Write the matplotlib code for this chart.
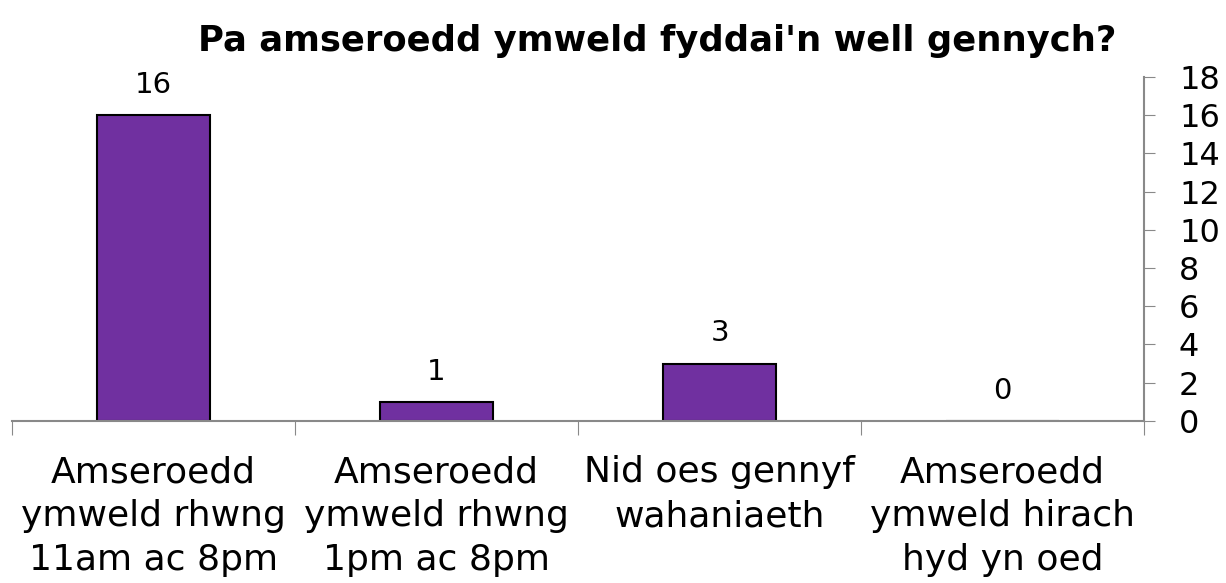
import matplotlib.pyplot as plt

categories = ["Amseroedd\nymweld rhwng\n11am ac 8pm",
              "Amseroedd\nymweld rhwng\n1pm ac 8pm",
              "Nid oes gennyf\nwahaniaeth",
              "Amseroedd\nymweld hirach\nhyd yn oed"]
values = [16, 1, 3, 0]
y_ticks = [0, 2, 4, 6, 8, 10, 12, 14, 16, 18]

fig = plt.figure(figsize=(12.26, 5.83), dpi=100)
ax = fig.add_axes([0.0098, 0.278, 0.9235, 0.59])

x = range(len(categories))
bars = ax.bar(x, values, width=0.4, color='#7030a0', edgecolor='black', linewidth=1.5)

for xi, v in zip(x, values):
    ax.text(xi, v + 0.85, str(v), ha='center', va='bottom', fontsize=21)

ax.set_xlim(-0.5, len(categories) - 0.5)
ax.set_ylim(0, 18)
ax.set_yticks(y_ticks)
ax.yaxis.tick_right()
ax.tick_params(axis='y', direction='out', length=8, color='#898989', labelsize=23, pad=17)

# category labels as text, tick marks at boundaries
ax.set_xticks([i - 0.5 for i in range(len(categories) + 1)])
ax.set_xticklabels([])
ax.tick_params(axis='x', direction='out', length=10, color='#898989')
for xi, lab in zip(x, categories):
    ax.text(xi, -1.8, lab, ha='center', va='top', fontsize=26, linespacing=1.37)

for side in ['top', 'left']:
    ax.spines[side].set_visible(False)
ax.spines['right'].set_color('#898989')
ax.spines['bottom'].set_color('#898989')
ax.spines['right'].set_linewidth(1.5)
ax.spines['bottom'].set_linewidth(1.5)

fig.text(0.536, 0.93, "Pa amseroedd ymweld fyddai'n well gennych?",
         ha='center', va='center', fontsize=25.5, fontweight='bold')

fig.savefig('out.png', dpi=100)
